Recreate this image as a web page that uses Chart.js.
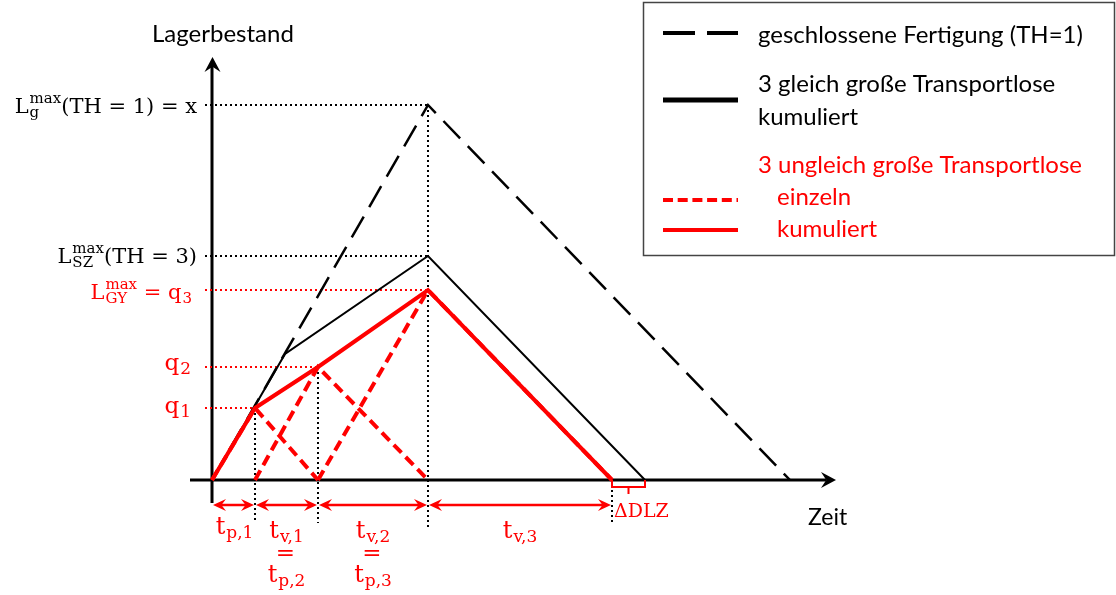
<!DOCTYPE html>
<html>
<head>
<meta charset="utf-8">
<script src="https://cdn.jsdelivr.net/npm/chart.js@4/dist/chart.umd.min.js"></script>
<style>
  html, body { margin: 0; padding: 0; background: #fff; }
  #wrap { width: 1116px; height: 595px; }
</style>
</head>
<body>
<div id="wrap"><canvas id="c" width="1116" height="595"></canvas></div>
<script>
// ---- Lagerbestandsverlauf: geschlossene Fertigung vs. Transportlose ----

// Zeitpunkte (Ende der Fertigung der Lose) und Ende des Abbaus
const tP1 = 4.3;      // Ende Los 1
const tP2 = 10.6;     // Ende Los 2
const tP3 = 21.6;     // Ende Los 3 / Ende geschlossene Fertigung
const tEndeGY = 40.0; // Lager leer, ungleiche Lose
const tEndeSZ = 43.3; // Lager leer, gleiche Lose
const tEndeG = 57.8;  // Lager leer, geschlossene Fertigung

// Bestandshöhen
const q1 = 7.2;
const q2 = 11.3;
const q3 = 19.0;          // L_GY^max
const lMaxSZ = 22.4;      // L_SZ^max (TH = 3)
const lMaxG = 37.5;       // L_g^max (TH = 1)

// geschlossene Fertigung (TH=1)
const geschlossenZeit = [0, tP3, tEndeG];
const geschlossenBestand = [0, lMaxG, 0];

// 3 gleich große Transportlose, kumuliert
const gleichZeit = [0, 7.3, tP3, tEndeSZ];
const gleichBestand = [0, 12.6, lMaxSZ, 0];

// 3 ungleich große Transportlose, kumuliert
const ungleichZeit = [0, tP1, tP2, tP3, tEndeGY];
const ungleichBestand = [0, q1, q2, q3, 0];

// 3 ungleich große Transportlose, einzeln
const los1Zeit = [0, tP1, tP2];
const los1Bestand = [0, q1, 0];
const los2Zeit = [tP1, tP2, tP3];
const los2Bestand = [0, q2, 0];
const los3Zeit = [tP2, tP3, tEndeGY];
const los3Bestand = [0, q3, 0];

// Abschnitte der Zeitachse (Pfeile)
const pfeilGrenzen = [0, tP1, tP2, tP3, tEndeGY];

const RED = '#ff0000';
const BLACK = '#000000';

const pts = (xs, ys) => xs.map((x, i) => ({ x, y: ys[i] }));

// dotted guide lines from the y axis to a level, and down from a point
const GUIDE_LEFT = -0.7;
const GUIDE_LOW = -4.3;
const GUIDE_LOW_PEAK = -4.8;
const guide = (data, color) => ({
  data, borderColor: color, borderWidth: 2, borderDash: [2, 3],
  pointRadius: 0, order: 10, fill: false
});

const datasets = [
  { label: '3 ungleich große Transportlose kumuliert', data: pts(ungleichZeit, ungleichBestand),
    borderColor: RED, borderWidth: 4, order: 1 },
  { label: 'Los 1', data: pts(los1Zeit, los1Bestand), borderColor: RED, borderWidth: 4, borderDash: [11, 6], order: 2 },
  { label: 'Los 2', data: pts(los2Zeit, los2Bestand), borderColor: RED, borderWidth: 4, borderDash: [11, 6], order: 2 },
  { label: 'Los 3', data: pts(los3Zeit, los3Bestand), borderColor: RED, borderWidth: 4, borderDash: [11, 6], order: 2 },
  { label: '3 gleich große Transportlose kumuliert', data: pts(gleichZeit, gleichBestand),
    borderColor: BLACK, borderWidth: 2, order: 3 },
  { label: 'geschlossene Fertigung (TH=1)', data: pts(geschlossenZeit, geschlossenBestand),
    borderColor: BLACK, borderWidth: 2.5, borderDash: [24, 11], order: 4 },
  guide([{ x: GUIDE_LEFT, y: lMaxG }, { x: tP3, y: lMaxG }], BLACK),
  guide([{ x: GUIDE_LEFT, y: lMaxSZ }, { x: tP3, y: lMaxSZ }], BLACK),
  guide([{ x: GUIDE_LEFT, y: q3 }, { x: tP3, y: q3 }], RED),
  guide([{ x: GUIDE_LEFT, y: q2 }, { x: tP2, y: q2 }], RED),
  guide([{ x: GUIDE_LEFT, y: q1 }, { x: tP1, y: q1 }], RED),
  guide([{ x: tP3, y: lMaxG }, { x: tP3, y: GUIDE_LOW_PEAK }], BLACK),
  guide([{ x: tP1, y: q1 }, { x: tP1, y: GUIDE_LOW }], BLACK),
  guide([{ x: tP2, y: q2 }, { x: tP2, y: GUIDE_LOW }], BLACK),
  guide([{ x: tEndeGY, y: 0 }, { x: tEndeGY, y: GUIDE_LOW }], BLACK)
];

// ---------- drawing helpers ----------
const SERIF = '"DejaVu Serif", "Liberation Serif", serif';
const SANS = 'Lato, "Open Sans", "Noto Sans", sans-serif';

// text with sub/superscripts; parts: {t} or {sub, sup}
function richWidth(ctx, parts, size) {
  let w = 0;
  for (const p of parts) {
    if (p.t !== undefined) { ctx.font = `${size}px ${SERIF}`; w += ctx.measureText(p.t).width; }
    else {
      ctx.font = `${Math.round(size * 0.72)}px ${SERIF}`;
      w += Math.max(p.sub ? ctx.measureText(p.sub).width : 0, p.sup ? ctx.measureText(p.sup).width : 0) + 1;
    }
  }
  return w;
}
function drawRich(ctx, parts, x, y, size, color, align) {
  const w = richWidth(ctx, parts, size);
  let cx = align === 'right' ? x - w : align === 'center' ? x - w / 2 : x;
  ctx.fillStyle = color;
  ctx.textBaseline = 'alphabetic';
  ctx.textAlign = 'left';
  for (const p of parts) {
    if (p.t !== undefined) {
      ctx.font = `${size}px ${SERIF}`;
      ctx.fillText(p.t, cx, y);
      cx += ctx.measureText(p.t).width;
    } else {
      ctx.font = `${Math.round(size * 0.72)}px ${SERIF}`;
      let ww = 0;
      if (p.sup) { ctx.fillText(p.sup, cx + 1, y - size * 0.5); ww = Math.max(ww, ctx.measureText(p.sup).width); }
      if (p.sub) { ctx.fillText(p.sub, cx + 1, y + size * 0.18); ww = Math.max(ww, ctx.measureText(p.sub).width); }
      cx += ww + 1;
    }
  }
}
function arrowHead(ctx, tipX, tipY, dx, dy, len, half) {
  const nx = -dy, ny = dx;
  const bx = tipX - dx * len, by = tipY - dy * len;
  ctx.beginPath();
  ctx.moveTo(tipX, tipY);
  ctx.lineTo(bx + nx * half, by + ny * half);
  ctx.lineTo(tipX - dx * len * 0.65, tipY - dy * len * 0.65);
  ctx.lineTo(bx - nx * half, by - ny * half);
  ctx.closePath();
  ctx.fill();
}

// axes with arrow heads, drawn underneath the curves
const axesPlugin = {
  id: 'axes',
  beforeDatasetsDraw(chart) {
    const { ctx, scales: { x, y } } = chart;
    const x0 = Math.round(x.getPixelForValue(0));
    const y0 = Math.round(y.getPixelForValue(0));
    ctx.save();
    ctx.strokeStyle = BLACK; ctx.fillStyle = BLACK; ctx.lineWidth = 3;
    ctx.beginPath();
    ctx.moveTo(x0, y0 + 23); ctx.lineTo(x0, 66);
    ctx.moveTo(x0 - 22, y0); ctx.lineTo(826, y0);
    ctx.stroke();
    arrowHead(ctx, x0 + 0.5, 57, 0, -1, 15, 8);
    arrowHead(ctx, 836, y0, 1, 0, 15, 8);
    ctx.restore();
  }
};

// labels, time arrows, bracket and legend
const labelPlugin = {
  id: 'labels',
  afterDraw(chart) {
    const { ctx, scales: { x, y } } = chart;
    const px = v => x.getPixelForValue(v);
    const py = v => y.getPixelForValue(v);
    ctx.save();

    // axis titles
    ctx.fillStyle = BLACK; ctx.textBaseline = 'alphabetic';
    ctx.font = `24px ${SANS}`;
    ctx.textAlign = 'left';
    ctx.fillText('Lagerbestand', 152, 42);
    ctx.font = `23px ${SANS}`;
    ctx.fillText('Zeit', 808, 525);

    // level labels on the y axis
    drawRich(ctx, [{ t: 'L' }, { sub: 'g', sup: 'max' }, { t: '(TH = 1) = x' }], 197, py(lMaxG) + 8, 21, BLACK, 'right');
    drawRich(ctx, [{ t: 'L' }, { sub: 'SZ', sup: 'max' }, { t: '(TH = 3)' }], 197, py(lMaxSZ) + 7, 21, BLACK, 'right');
    drawRich(ctx, [{ t: 'L' }, { sub: 'GY', sup: 'max' }, { t: ' = q' }, { sub: '3' }], 192, py(q3) + 9, 21, RED, 'right');
    drawRich(ctx, [{ t: 'q' }, { sub: '2' }], 191, py(q2) + 3, 23, RED, 'right');
    drawRich(ctx, [{ t: 'q' }, { sub: '1' }], 191, py(q1) + 5, 23, RED, 'right');

    // time segment arrows
    const ay = py(0) + 25;
    ctx.strokeStyle = RED; ctx.fillStyle = RED; ctx.lineWidth = 2.5;
    for (let i = 0; i < pfeilGrenzen.length - 1; i++) {
      const a = px(pfeilGrenzen[i]) + 1, b = px(pfeilGrenzen[i + 1]) - 1;
      ctx.beginPath(); ctx.moveTo(a + 6, ay); ctx.lineTo(b - 6, ay); ctx.stroke();
      arrowHead(ctx, a, ay, -1, 0, 13, 6);
      arrowHead(ctx, b, ay, 1, 0, 13, 6);
    }

    // segment labels
    const mid = (a, b) => (px(a) + px(b)) / 2;
    drawRich(ctx, [{ t: 't' }, { sub: 'p,1' }], mid(0, tP1) + 1, 534, 24, RED, 'center');
    drawRich(ctx, [{ t: 't' }, { sub: 'v,1' }], mid(tP1, tP2), 538, 24, RED, 'center');
    drawRich(ctx, [{ t: '=' }], mid(tP1, tP2) - 1, 560, 23, RED, 'center');
    drawRich(ctx, [{ t: 't' }, { sub: 'p,2' }], mid(tP1, tP2), 582, 24, RED, 'center');
    drawRich(ctx, [{ t: 't' }, { sub: 'v,2' }], mid(tP2, tP3), 538, 24, RED, 'center');
    drawRich(ctx, [{ t: '=' }], mid(tP2, tP3) - 1, 560, 23, RED, 'center');
    drawRich(ctx, [{ t: 't' }, { sub: 'p,3' }], mid(tP2, tP3), 582, 24, RED, 'center');
    drawRich(ctx, [{ t: 't' }, { sub: 'v,3' }], mid(tP3, tEndeGY), 538, 24, RED, 'center');

    // ΔDLZ bracket between the two empty-stock points
    const b1 = px(tEndeGY), b2 = px(tEndeSZ), by = py(0);
    ctx.strokeStyle = RED; ctx.lineWidth = 2;
    ctx.beginPath();
    ctx.moveTo(b1, by); ctx.lineTo(b1, by + 7); ctx.lineTo(b2, by + 7); ctx.lineTo(b2, by);
    ctx.moveTo((b1 + b2) / 2, by + 7); ctx.lineTo((b1 + b2) / 2, by + 14);
    ctx.stroke();
    drawRich(ctx, [{ t: 'ΔDLZ' }], b1 + 2, 517, 19, RED, 'left');

    // legend box
    ctx.strokeStyle = '#444'; ctx.lineWidth = 1.5;
    ctx.strokeRect(643.5, 2.5, 471, 253);
    const sample = (yy, color, w, dash) => {
      ctx.strokeStyle = color; ctx.lineWidth = w; ctx.setLineDash(dash);
      ctx.beginPath(); ctx.moveTo(663, yy); ctx.lineTo(738, yy); ctx.stroke();
      ctx.setLineDash([]);
    };
    sample(33, BLACK, 4, [32, 12]);
    sample(100, BLACK, 5, []);
    sample(200, RED, 4, [10, 4.7]);
    sample(230, RED, 4, []);
    ctx.font = `24px ${SANS}`; ctx.textAlign = 'left';
    ctx.fillStyle = BLACK;
    ctx.fillText('geschlossene Fertigung (TH=1)', 758, 43);
    ctx.fillText('3 gleich große Transportlose', 758, 92);
    ctx.fillText('kumuliert', 758, 125);
    ctx.fillStyle = RED;
    ctx.fillText('3 ungleich große Transportlose', 758, 173);
    ctx.fillText('einzeln', 777, 205);
    ctx.fillText('kumuliert', 777, 237);

    ctx.restore();
  }
};

new Chart(document.getElementById('c'), {
  type: 'line',
  data: { datasets },
  options: {
    responsive: false,
    animation: false,
    devicePixelRatio: 1,
    events: [],
    layout: { padding: 0, autoPadding: false },
    plugins: { legend: { display: false }, tooltip: { enabled: false }, title: { display: false } },
    elements: { point: { radius: 0 }, line: { tension: 0, fill: false, borderCapStyle: 'butt', borderJoinStyle: 'miter' } },
    scales: {
      x: { type: 'linear', display: false, min: -21.2, max: 90.4 },
      y: { type: 'linear', display: false, min: -11.5, max: 48.0 }
    }
  },
  plugins: [axesPlugin, labelPlugin]
});
</script>
</body>
</html>
